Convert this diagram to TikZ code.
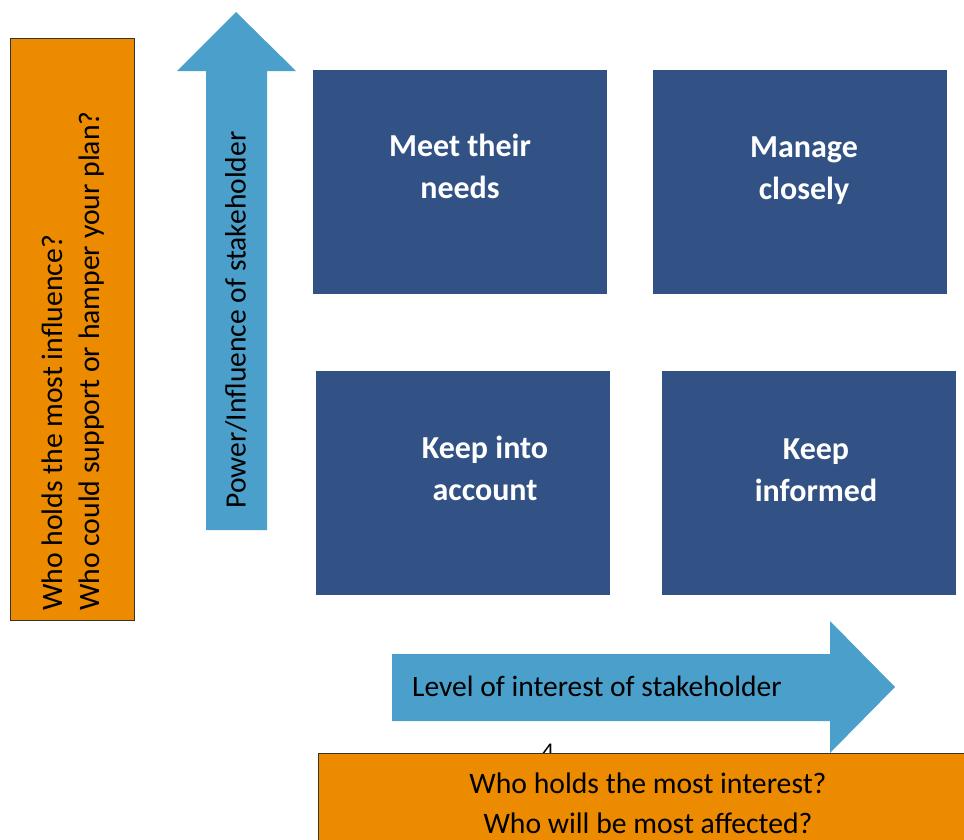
\documentclass[tikz,border=0pt]{standalone}
\usepackage{fontspec}
\setmainfont{Carlito}
\begin{document}
\definecolor{quadblue}{RGB}{50,82,133}
\definecolor{arrowblue}{RGB}{74,159,203}
\definecolor{promptorange}{RGB}{236,138,0}
\begin{tikzpicture}[x=1pt,y=-1pt,
  quad/.style={fill=quadblue,draw=none},
  quadtext/.style={text=white,font=\fontsize{32}{42}\selectfont\bfseries,align=center,inner sep=0pt},
  prompt/.style={fill=promptorange,draw=black!80,line width=0.9pt},
  prompttext/.style={font=\fontsize{29.7}{40}\selectfont,inner sep=0pt},
  axis/.style={fill=arrowblue,draw=none},
  axistext/.style={font=\fontsize{29.5}{32}\selectfont,inner sep=0pt}]
\useasboundingbox (0,0) rectangle (964,839);

% left prompt box
\path[prompt] (10,38) rectangle (134,620);
\node[prompttext,rotate=90,anchor=west] (q1) at (52,611) {Who holds the most influence?};
\node[prompttext,rotate=90,anchor=west] (q2) at (92,611) {Who could support or hamper your plan?};

% vertical axis arrow
\path[axis] (206,530) -- (206,71) -- (177,71) -- (236,12) -- (296,71) -- (267,71) -- (267,530) -- cycle;
\node[axistext,rotate=90] (pow) at (236,320) {Power/Influence of stakeholder};

% quadrants
\path[quad] (313,70) rectangle (607,294);
\path[quad] (653,70) rectangle (947,294);
\path[quad] (316,371) rectangle (610,595);
\path[quad] (662,371) rectangle (956,595);
\node[quadtext] (tl) at (460,166) {Meet their\\needs};
\node[quadtext] (tr) at (804,171) {Manage\\closely};
\node[quadtext] (bl) at (485,468) {Keep into\\account};
\node[quadtext] (br) at (816,470) {Keep\\informed};

% horizontal axis arrow
\path[axis] (392,654) -- (830,654) -- (830,621) -- (895,687) -- (830,753) -- (830,721) -- (392,721) -- cycle;
\node[axistext,anchor=west] (lvl) at (412,686) {Level of interest of stakeholder};

% page number peeking out above the bottom box
\begin{scope}
  \clip (500,730) rectangle (600,753);
  \node[font=\fontsize{24}{24}\selectfont,inner sep=0pt,anchor=north] (pg) at (548,744) {4};
\end{scope}

% bottom prompt box
\path[prompt] (318,753) rectangle (970,845);
\node[prompttext] (q3) at (648,783) {Who holds the most interest?};
\node[prompttext] (q4) at (648,823) {Who will be most affected?};
\end{tikzpicture}
\end{document}
